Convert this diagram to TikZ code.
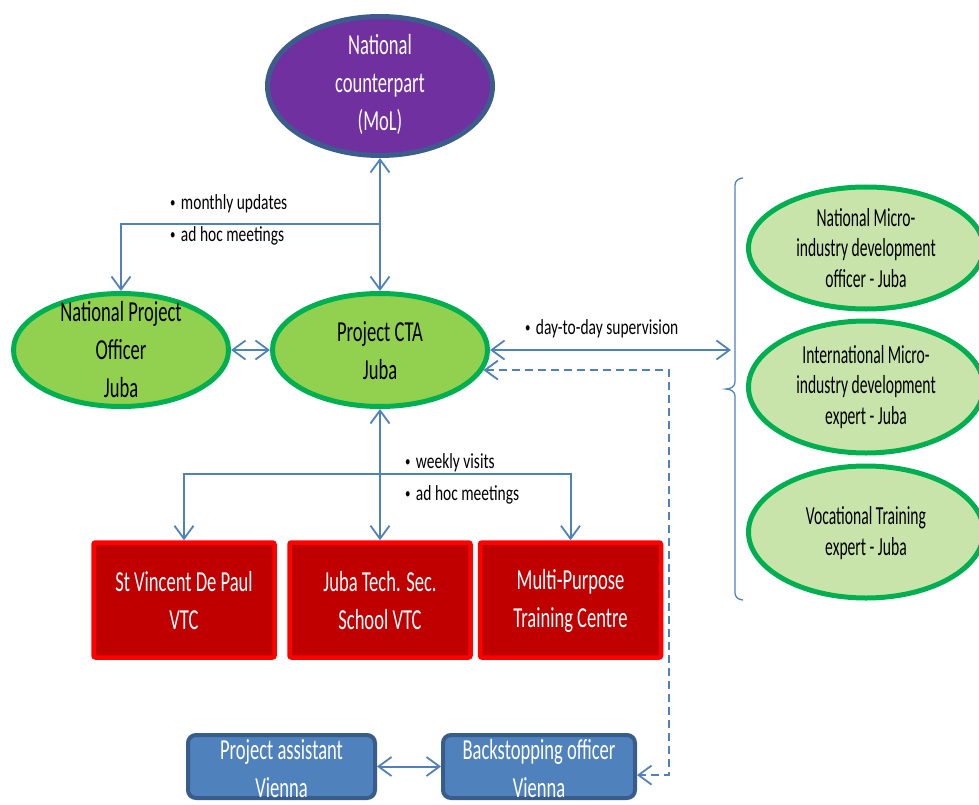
\documentclass[tikz,border=0pt]{standalone}
\usepackage{fontspec}
\setmainfont{Carlito}
\newfontfamily\mainf[FakeStretch=0.64]{Carlito}
\newfontfamily\smallf[FakeStretch=0.6]{Carlito}
\newfontfamily\labf[FakeStretch=0.72]{Carlito}
\usetikzlibrary{shapes.geometric,arrows.meta}
\definecolor{lineblue}{HTML}{4F81BD}
\definecolor{purpleF}{HTML}{7030A0}
\definecolor{navyB}{HTML}{3D5C8E}
\definecolor{greenF}{HTML}{92D050}
\definecolor{greenB}{HTML}{00B050}
\definecolor{lightG}{HTML}{C8E4AA}
\definecolor{redF}{HTML}{C00000}
\definecolor{redB}{HTML}{FF0000}
\definecolor{blueF}{HTML}{4F81BD}
\definecolor{blueB}{HTML}{385D8A}
\newcommand{\smbul}{\raisebox{0.12em}{\scalebox{0.7}{\textbullet}}\hspace{0.25em}}
\tikzset{
  ell/.style={ellipse, line width=5pt, inner sep=0pt},
  redbox/.style={rectangle, rounded corners=2pt, fill=redF, draw=redB, line width=4.5pt, minimum width=181pt, minimum height=115pt, inner sep=0pt},
  bluebox/.style={rectangle, rounded corners=8pt, fill=blueF, draw=blueB, line width=4pt, minimum height=63pt, inner sep=0pt},
  maintxt/.style={font=\mainf\fontsize{29}{38}\selectfont, align=center, inner sep=0pt},
  smalltxt/.style={font=\smallf\fontsize{26}{30.5}\selectfont, align=center, inner sep=0pt},
  labtxt/.style={font=\labf\fontsize{21.5}{32}\selectfont, align=left, anchor=west, inner sep=0pt},
  conn/.style={draw=lineblue, line width=2pt},
  dashconn/.style={draw=lineblue, line width=1.8pt, dash pattern=on 8pt off 5pt},
  >={Straight Barb[length=13pt,width=19pt,line width=1.8pt]}
}
\begin{document}
\begin{tikzpicture}[x=1pt,y=1pt]
\useasboundingbox (0,0) rectangle (979,-805);
\clip (0,0) rectangle (979,-805);
% ellipses
\node[ell, fill=purpleF, draw=navyB, minimum width=225pt, minimum height=139pt] (mol) at (380,-86) {};
\node[maintxt, text=white] (molt) at (380,-84) {National\\counterpart\\(MoL)};
\node[ell, fill=greenF, draw=greenB, minimum width=215pt, minimum height=113pt] (npo) at (121,-350) {};
\node[maintxt] (npot) at (121,-350) {National Project\\Officer\\Juba};
\node[ell, fill=greenF, draw=greenB, minimum width=215pt, minimum height=113pt] (cta) at (380,-350) {};
\node[maintxt] (ctat) at (380,-351) {Project CTA\\Juba};
% right ellipses
\node[ell, fill=lightG, draw=greenB, minimum width=235pt, minimum height=122pt] (e1) at (866,-248) {};
\node[smalltxt] (e1t) at (866,-248) {National Micro-\\industry development\\officer - Juba};
\node[ell, fill=lightG, draw=greenB, minimum width=235pt, minimum height=132pt] (e2) at (866,-387) {};
\node[smalltxt] (e2t) at (866,-387) {International Micro-\\industry development\\expert - Juba};
\node[ell, fill=lightG, draw=greenB, minimum width=235pt, minimum height=132pt] (e3) at (866,-532) {};
\node[smalltxt] (e3t) at (866,-533) {Vocational Training\\expert - Juba};
% red boxes
\node[redbox] (r1) at (184,-600) {};
\node[maintxt, text=white] (r1t) at (184,-601) {St Vincent De Paul\\VTC};
\node[redbox] (r2) at (380,-600) {};
\node[maintxt, text=white] (r2t) at (380,-601) {Juba Tech. Sec.\\School VTC};
\node[redbox] (r3) at (570.5,-600) {};
\node[maintxt, text=white] (r3t) at (570.5,-601) {Multi-Purpose\\Training Centre};
% blue boxes
\node[bluebox, minimum width=187pt] (pa) at (281.5,-766.5) {};
\node[maintxt, text=white] (pat) at (281.5,-769) {Project assistant\\Vienna};
\node[bluebox, minimum width=192pt] (bo) at (539,-766.5) {};
\node[maintxt, text=white] (bot) at (539,-769) {Backstopping officer\\Vienna};
% coordinates
\coordinate (j1) at (380,-224);
\coordinate (j2) at (380,-474);
\coordinate (brk) at (731,-350);
\coordinate (dx) at (669,0);
% connectors
\draw[conn,<->] (mol.south) -- (cta.north);
\draw[conn,->] (j1) -| (npo.north);
\draw[conn,<->] (npo.east) -- (cta.west);
\draw[conn,<->] (cta.east) -- (brk);
\draw[conn,<->] (cta.south) -- (r2.north);
\draw[conn,->] (j2) -| (r1.north);
\draw[conn,->] (j2) -| (r3.north);
\draw[conn,<->] (pa.east) -- (bo.west);
\draw[dashconn,<->] (cta.-11) -- (cta.-11 -| dx) |- (bo.-5);
% bracket
\draw[draw=lineblue, line width=1.3pt] (743,-178) to[out=180,in=90] (735,-185) -- (735,-382) to[out=-90,in=0] (726,-389) to[out=0,in=90] (735,-396) -- (735,-593) to[out=-90,in=180] (743,-600);
% labels
\node[labtxt] (l1) at (170,-220) {\smbul monthly updates\\\smbul ad hoc meetings};
\node[labtxt] (l2) at (525,-329) {\smbul day-to-day supervision};
\node[labtxt] (l3) at (405,-479) {\smbul weekly visits\\\smbul ad hoc meetings};
\end{tikzpicture}
\end{document}
